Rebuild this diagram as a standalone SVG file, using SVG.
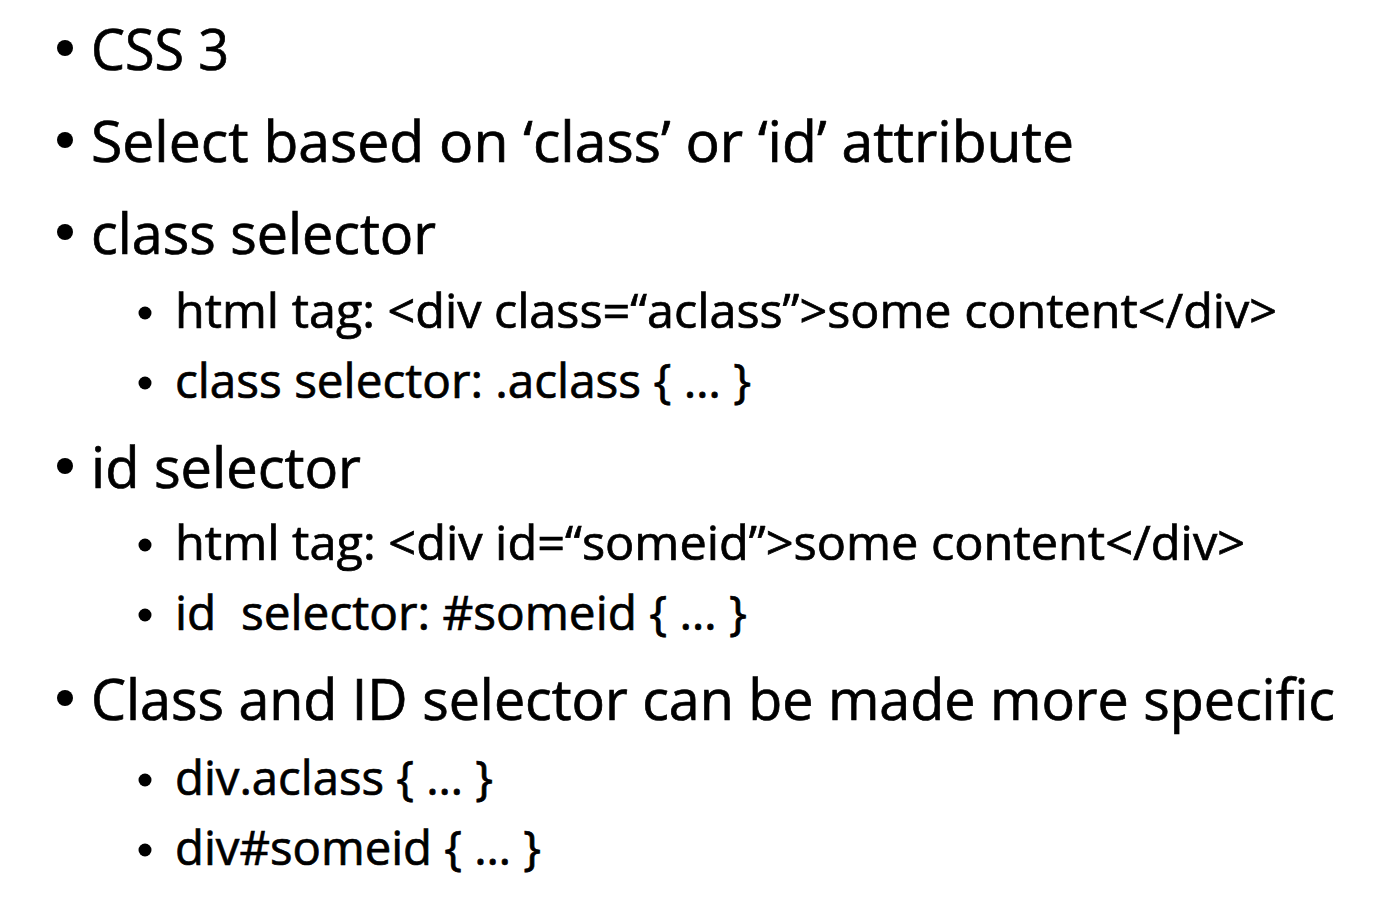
<svg xmlns="http://www.w3.org/2000/svg" width="1388" height="912" viewBox="0 0 1388 912">
<style>
text{font-family:"Open Sans","Noto Sans","Liberation Sans",sans-serif;fill:#000;stroke:#000;stroke-width:0.7;white-space:pre}
.l1{font-size:56px}
.l2{font-size:48px}
circle{fill:#000}
</style>
<rect width="1388" height="912" fill="#fff"/>
<g id="item1"><circle cx="65" cy="48" r="8"/><text class="l1" x="91" y="70" textLength="138" lengthAdjust="spacingAndGlyphs">CSS 3</text></g>
<g id="item2"><circle cx="65" cy="140" r="8"/><text class="l1" x="91" y="162" textLength="983" lengthAdjust="spacingAndGlyphs">Select based on ‘class’ or ‘id’ attribute</text></g>
<g id="item3"><circle cx="65" cy="232" r="8"/><text class="l1" x="91" y="254" textLength="345" lengthAdjust="spacingAndGlyphs">class selector</text></g>
<g id="item3a"><circle cx="145" cy="313" r="6.5"/><text class="l2" x="175" y="328" textLength="1102" lengthAdjust="spacingAndGlyphs">html tag: &lt;div class=“aclass”&gt;some content&lt;/div&gt;</text></g>
<g id="item3b"><circle cx="145" cy="383" r="6.5"/><text class="l2" x="175" y="398" textLength="576" lengthAdjust="spacingAndGlyphs">class selector: .aclass { … }</text></g>
<g id="item4"><circle cx="65" cy="466" r="8"/><text class="l1" x="91" y="488" textLength="270" lengthAdjust="spacingAndGlyphs">id selector</text></g>
<g id="item4a"><circle cx="145" cy="545" r="6.5"/><text class="l2" x="175" y="560" textLength="1070" lengthAdjust="spacingAndGlyphs">html tag: &lt;div id=“someid”&gt;some content&lt;/div&gt;</text></g>
<g id="item4b"><circle cx="145" cy="615" r="6.5"/><text class="l2" x="175" y="630" textLength="572" lengthAdjust="spacingAndGlyphs">id  selector: #someid { … }</text></g>
<g id="item5"><circle cx="65" cy="698" r="8"/><text class="l1" x="91" y="720" textLength="1244" lengthAdjust="spacingAndGlyphs">Class and ID selector can be made more specific</text></g>
<g id="item5a"><circle cx="145" cy="780" r="6.5"/><text class="l2" x="175" y="795" textLength="318" lengthAdjust="spacingAndGlyphs">div.aclass { … }</text></g>
<g id="item5b"><circle cx="145" cy="850" r="6.5"/><text class="l2" x="175" y="865" textLength="366" lengthAdjust="spacingAndGlyphs">div#someid { … }</text></g>
</svg>
